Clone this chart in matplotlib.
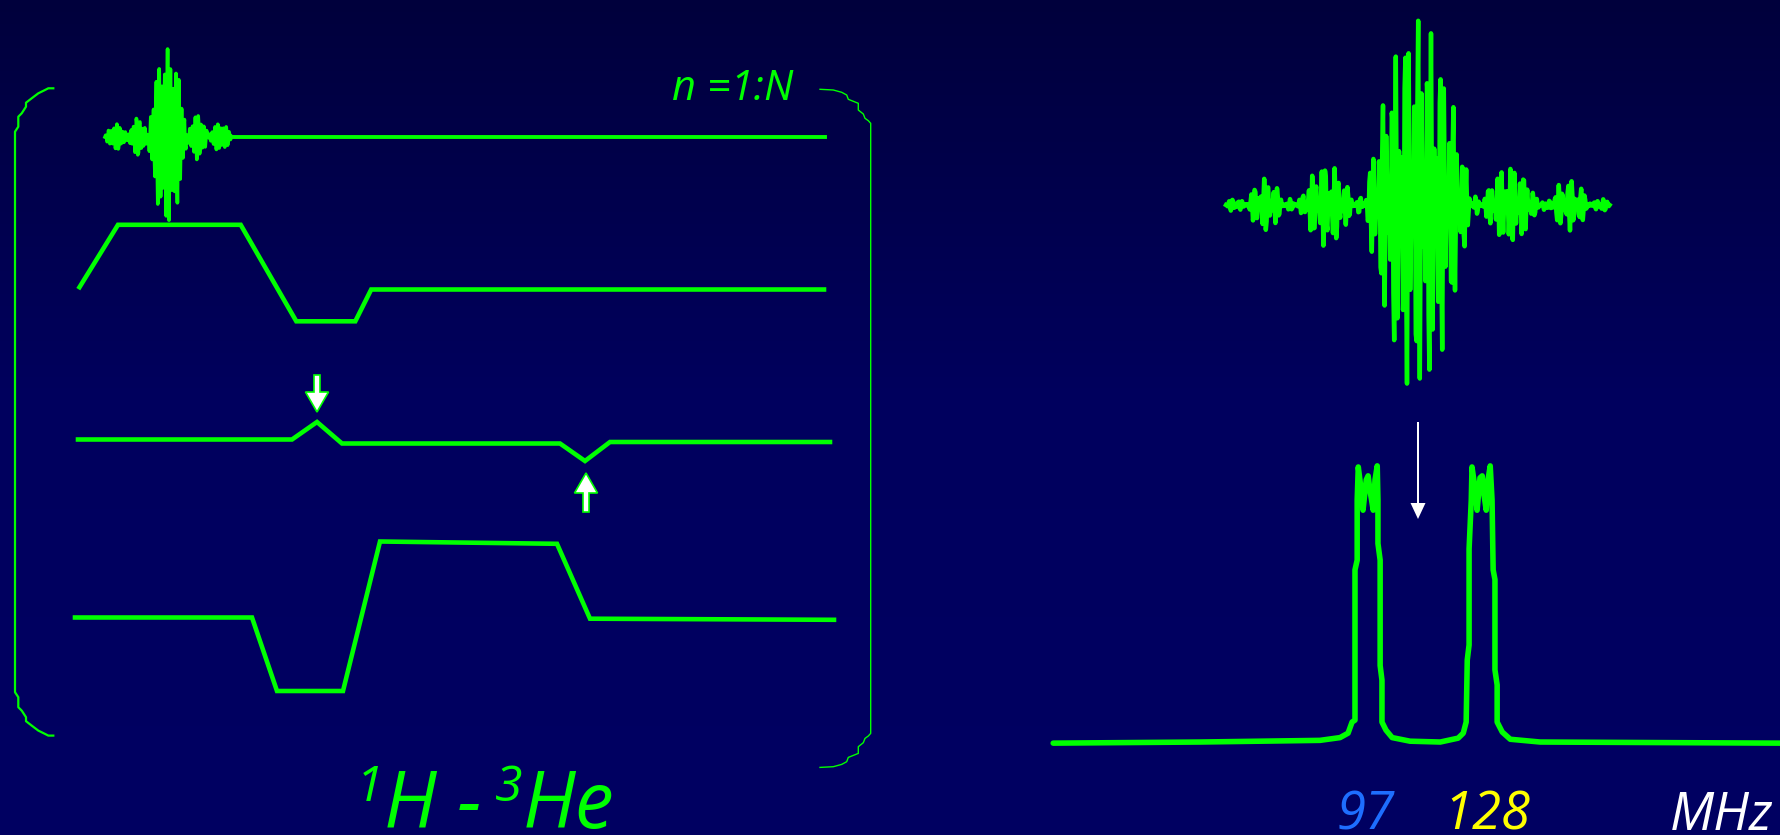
"""
Dual-band 1H/3He excitation: pulse sequence diagram with its RF waveform
and the two-band excitation spectrum at 97 and 128 MHz.
"""

import numpy as np
import matplotlib
matplotlib.use("Agg")
import matplotlib.pyplot as plt
from matplotlib import transforms

GREEN = "#00ff00"
FONT = "Open Sans"

# ── Sequence diagram (canvas pixels, y grows downwards) ──────────────────────

# RF pulse lobes of the sequence row: start, end, peak amplitude
rf_lobe_start = [105, 128, 148, 187, 208]
rf_lobe_end   = [128, 148, 187, 208, 232]
rf_lobe_amp   = [14, 23, 90, 23, 14]
rf_row_y      = 137
rf_tail_x     = [232, 825]

# gradient waveforms (breakpoints)
grad1_x = [79.5, 118, 240.7, 296.3, 355.3, 371.2, 824]
grad1_y = [287.2, 224.8, 224.8, 321.3, 321.3, 289.5, 289.5]

grad2_x = [78, 292, 317, 342, 560, 585, 610, 830]
grad2_y = [439.5, 439.5, 422, 443.5, 443.5, 461, 442, 442]

grad3_x = [75, 252, 277, 343, 380, 557, 590, 834]
grad3_y = [617.5, 617.5, 691, 691, 541.5, 543.8, 618.7, 619.8]

# blip arrows: x, tail y, tip y
blip_x    = [317, 586]
blip_tail = [375, 512]
blip_tip  = [412, 473]

# loop bracket corners (top halves, bottom is mirrored)
lbr_x = [53.3, 48.3, 45, 38.3, 31.7, 26, 26, 21.7, 18.3, 18.3, 15]
lbr_y = [88.3, 88.3, 90, 93.3, 98.3, 102.7, 106.7, 113.3, 116.7, 126.7, 131.7]
lbr_bottom = 735.6
rbr_x = [820, 833.3, 841.7, 846.7, 848.3, 858.3, 858.3, 863.3, 865, 868.3, 870.7]
rbr_y = [89.3, 90, 92.3, 95, 99.3, 103.3, 110, 114, 118.3, 120.7, 123.3]
rbr_bottom = 767.4

# ── Dual-band RF pulse ───────────────────────────────────────────────────────

mb_lobe_start = [1226, 1245, 1286, 1297, 1356, 1363, 1473, 1480, 1540, 1546, 1592]
mb_lobe_end   = [1245, 1286, 1297, 1356, 1363, 1473, 1480, 1540, 1546, 1592, 1610]
mb_lobe_amp   = [8, 28, 7, 43, 10, 196, 10, 43, 8, 26, 8]
mb_row_y      = 205

# ── Excitation spectrum (MHz, relative amplitude) ────────────────────────────

spec_f = [10.6, 50.9, 83.8, 89.3, 91.5, 92.6, 93.4, 93.4, 94.0, 94.0, 94.3,
          95.1, 95.6, 96.5, 97.0, 97.5, 98.4, 98.9, 99.5, 99.7, 99.7, 100.3,
          100.3, 100.8, 100.8, 101.9, 103.6, 108.5, 116.8, 121.7, 123.1,
          123.9, 124.2, 124.7, 124.7, 125.3, 125.5, 126.4, 126.9, 127.7,
          128.3, 128.8, 129.4, 129.9, 130.5, 131.0, 131.3, 131.8, 131.8,
          132.4, 132.4, 133.8, 136.0, 144.2, 210.0]
spec_a = [0.0, 0.004, 0.01, 0.02, 0.036, 0.076, 0.083, 0.625, 0.66, 0.877,
          0.996, 0.913, 0.84, 0.95, 0.964, 0.913, 0.84, 0.95, 1.0, 0.877,
          0.72, 0.66, 0.28, 0.227, 0.076, 0.047, 0.02, 0.007, 0.004, 0.018,
          0.036, 0.076, 0.30, 0.354, 0.70, 0.877, 0.996, 0.913, 0.84, 0.957,
          0.964, 0.895, 0.84, 0.95, 1.0, 0.877, 0.625, 0.59, 0.264, 0.21,
          0.076, 0.04, 0.014, 0.004, 0.0]

band_freqs   = [97, 128]
band_colors  = ["#1e6eff", "#ffff00"]
band_nudge   = [-3, 6]          # label offsets in pixels


def lobe_train(starts, ends, amps, step, periods, weights, centre, shape=1.0):
    """Sinc-like pulse: half-sine lobes modulating a carrier."""
    xs, env = [], []
    for s, e, a in zip(starts, ends, amps):
        x = np.arange(s, e, step)
        xs.append(x)
        env.append(a * np.sin(np.pi * (x - s) / (e - s)) ** shape)
    x = np.concatenate(xs)
    env = np.concatenate(env)
    carrier = sum(w * np.cos(2 * np.pi * (x - centre) / p)
                  for p, w in zip(periods, weights))
    return x, env * carrier


W, H = 1780, 835
fig = plt.figure(figsize=(W / 100, H / 100), dpi=100)
ax = fig.add_axes([0, 0, 1, 1])
ax.set_xlim(0, W)
ax.set_ylim(H, 0)
ax.axis("off")

# background gradient
rows = np.arange(H + 1)
blue = np.interp(rows, [0, 400, H], [0x3c, 0x5e, 0x62]) / 255
bg = np.zeros((H + 1, 1, 3))
bg[:, 0, 2] = blue
ax.imshow(bg, extent=[0, W, H, 0], aspect="auto", zorder=0)

# sequence rows
x, y = lobe_train(rf_lobe_start, rf_lobe_end, rf_lobe_amp, 0.7,
                  [2.8, 3.9], [0.8, 0.2], 167.5, shape=0.8)
ax.plot(x, rf_row_y - y, color=GREEN, lw=2.6, zorder=3)
ax.plot(rf_tail_x, [rf_row_y, rf_row_y], color=GREEN, lw=2.8, zorder=3)
for gx, gy in [(grad1_x, grad1_y), (grad2_x, grad2_y), (grad3_x, grad3_y)]:
    ax.plot(gx, gy, color=GREEN, lw=3.3, zorder=3, solid_joinstyle="miter")

for bx, t0, t1 in zip(blip_x, blip_tail, blip_tip):
    ax.arrow(bx, t0, 0, t1 - t0, width=6, head_width=23, head_length=20,
             length_includes_head=True, fc="white", ec=GREEN, lw=1.2, zorder=4)

# loop brackets
lx = np.array(lbr_x)
ly = np.array(lbr_y)
ax.plot(np.r_[lx, lx[::-1]], np.r_[ly, (lbr_y[0] + lbr_bottom) - ly[::-1]],
        color=GREEN, lw=1.6, zorder=3)
rx = np.array(rbr_x)
ry = np.array(rbr_y)
ax.plot(np.r_[rx, rx[::-1]], np.r_[ry, (rbr_y[0] + rbr_bottom) - ry[::-1]],
        color=GREEN, lw=1.0, zorder=3)

ax.text(672, 100, "n =1:N", color=GREEN, fontsize=30, family=FONT,
        style="italic", ha="left", va="baseline")

# nuclei label
ax.text(356, 801, "1", color=GREEN, fontsize=36, family=FONT,
        style="italic", ha="left", va="baseline")
ax.text(384, 828, "H -", color=GREEN, fontsize=56, family=FONT,
        style="italic", ha="left", va="baseline")
ax.text(495, 801, "3", color=GREEN, fontsize=36, family=FONT,
        style="italic", ha="left", va="baseline")
ax.text(523, 828, "He", color=GREEN, fontsize=56, family=FONT,
        style="italic", ha="left", va="baseline")

# dual-band pulse
x, y = lobe_train(mb_lobe_start, mb_lobe_end, mb_lobe_amp, 0.8,
                  [3.2, 4.4], [0.55, 0.45], 1418)
ax.plot(x, mb_row_y - y, color=GREEN, lw=3.2, zorder=3)

# pulse -> spectrum arrow
ax.arrow(1418, 422, 0, 97, width=2, head_width=15, head_length=16,
         length_includes_head=True, fc="white", ec="none", zorder=4)

# excitation spectrum
ax_sp = fig.add_axes([1051 / W, (H - 757) / H, (W - 1051) / W, 305 / H])
ax_sp.set_xlim(10, 210)
ax_sp.set_ylim(-0.05, 1.05)
ax_sp.axis("off")
ax_sp.patch.set_alpha(0)
ax_sp.plot(spec_f, spec_a, color=GREEN, lw=4.0, solid_capstyle="round",
           solid_joinstyle="round", clip_on=False)

lab = transforms.blended_transform_factory(ax_sp.transData, ax.transData)
for f, c, dx in zip(band_freqs, band_colors, band_nudge):
    ax.annotate(str(f), xy=(f, 830), xycoords=lab, xytext=(dx, 0),
                textcoords="offset pixels", color=c, fontsize=38, family=FONT,
                style="italic", ha="center", va="baseline")
ax.text(1670, 830, "MHz", color="white", fontsize=38, family=FONT,
        style="italic", ha="left", va="baseline")

fig.savefig("out.png", dpi=100)
plt.close(fig)
